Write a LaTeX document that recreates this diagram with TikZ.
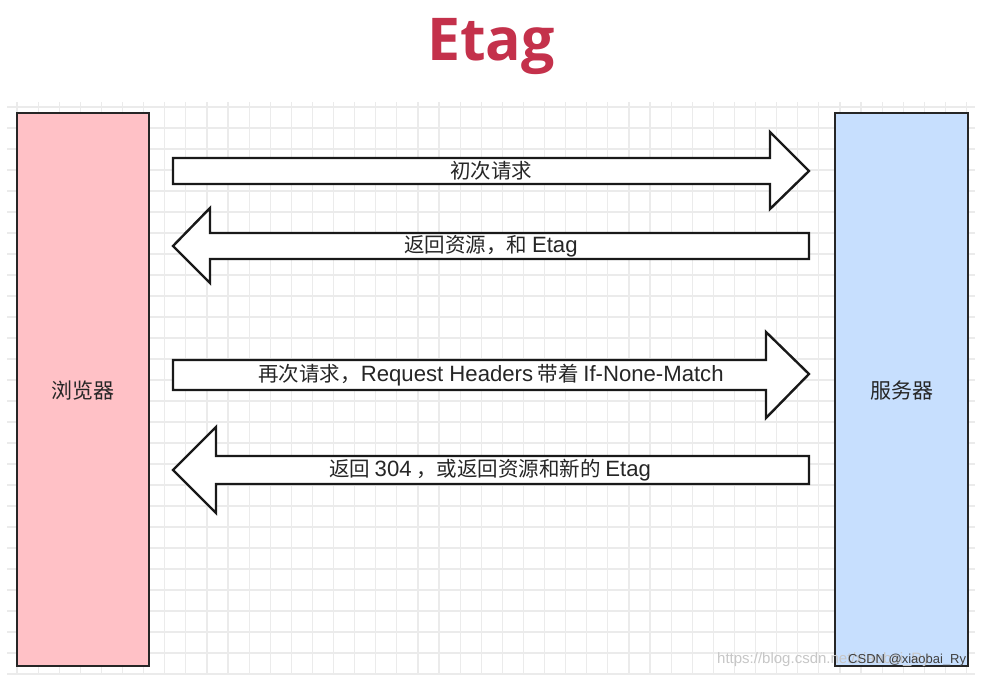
\documentclass[tikz,border=0pt]{standalone}
\usepackage{fontspec}
\setmainfont{Noto Sans CJK SC}
\newfontfamily\titlefont{Open Sans}
\newfontfamily\latf[Scale=1.08]{Liberation Sans}
\newfontfamily\wmf{Liberation Sans}
\newcommand{\lt}[1]{{\latf #1}}
\definecolor{titlered}{HTML}{C4314B}
\definecolor{boxpink}{HTML}{FFC1C6}
\definecolor{boxblue}{HTML}{C7DFFE}
\definecolor{gridc}{HTML}{EBEBEB}
\tikzset{
  gridline/.style={draw=gridc, line width=1.2pt},
  party/.style={draw=black!85, line width=2pt},
  bigarrow/.style={draw=black!90, fill=white, line width=2.4pt, line join=miter},
  arrowtext/.style={font=\fontsize{20.5}{22}\selectfont, text=black!85, inner sep=0pt},
  partytext/.style={font=\fontsize{21}{23}\selectfont, text=black!85, inner sep=0pt},
  wmtext/.style={font=\wmf, anchor=west, inner sep=0pt},
}
\begin{document}
\begin{tikzpicture}[x=1pt,y=-1pt]
\useasboundingbox (0,0) rectangle (997,678);
\fill[white] (0,0) rectangle (997,678);
% grid
\foreach \i in {0,...,45} {
  \draw[gridline] ({17+21.1*\i},102) -- ({17+21.1*\i},674);
}
\foreach \j in {0,...,27} {
  \draw[gridline] (7,{107+21*\j}) -- (975,{107+21*\j});
}
% title
\node[font=\titlefont\bfseries\fontsize{59}{64}\selectfont, text=titlered, inner sep=0pt] (title) at (491,47) {Etag};
% parties
\draw[party, fill=boxpink] (17,113) rectangle (149,666);
\node[partytext] (browser) at (83,391) {浏览器};
\draw[party, fill=boxblue] (835,113) rectangle (968,666);
\node[partytext] (server) at (901.5,391) {服务器};
% arrows
\draw[bigarrow] (173,158) -- (770,158) -- (770,132) -- (809,171) -- (770,209) -- (770,184) -- (173,184) -- cycle;
\node[arrowtext] (a1) at (491,171) {初次请求};
\draw[bigarrow] (809,233) -- (210,233) -- (210,208) -- (173,246) -- (210,283) -- (210,259) -- (809,259) -- cycle;
\node[arrowtext] (a2) at (491,246) {返回资源，和 \lt{Etag}};
\draw[bigarrow] (173,360) -- (766,360) -- (766,332) -- (809,374) -- (766,418) -- (766,390) -- (173,390) -- cycle;
\node[arrowtext] (a3) at (491,375) {再次请求，\lt{Request Headers} 带着 \lt{If-None-Match}};
\draw[bigarrow] (809,456) -- (216,456) -- (216,427) -- (173,470) -- (216,513) -- (216,484) -- (809,484) -- cycle;
\node[arrowtext] (a4) at (490,470) {返回 \lt{304} ，或返回资源和新的 \lt{Etag}};
% watermark
\node[wmtext, text=black!22, font=\wmf\fontsize{15}{17}\selectfont] (wm1) at (717,660) {https://blog.csdn.net/xiaobai\_Ry};
\node[wmtext, text=black!75, font=\wmf\fontsize{13}{15}\selectfont] (wm2) at (848,660) {CSDN @xiaobai\_Ry};
\end{tikzpicture}
\end{document}
